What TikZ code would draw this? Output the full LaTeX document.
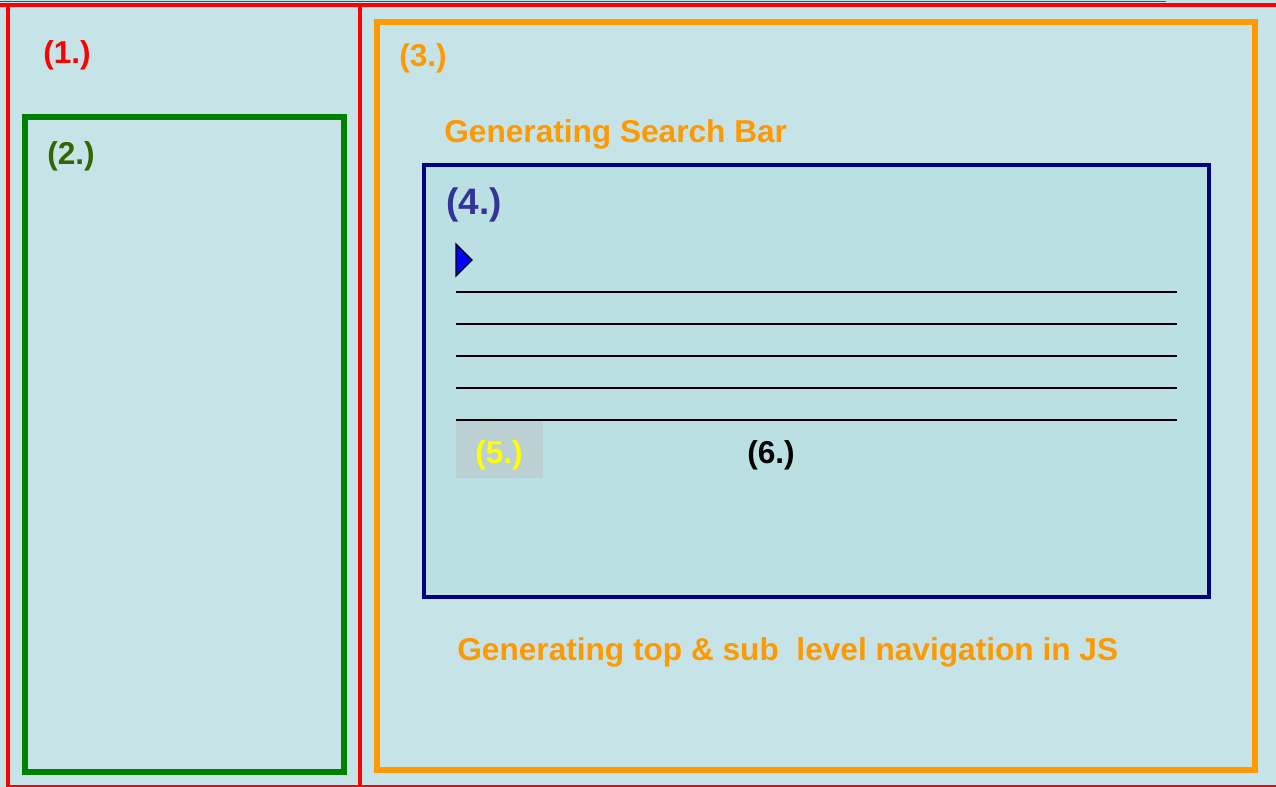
\documentclass[tikz,border=0pt]{standalone}
\usepackage{fontspec}
\setmainfont{Liberation Sans}
\usetikzlibrary{calc}
\definecolor{bgblue}{RGB}{198,227,231}
\definecolor{boxblue}{RGB}{187,224,227}
\definecolor{fivegray}{RGB}{186,208,211}
\definecolor{orng}{RGB}{255,153,0}
\definecolor{dgreen}{RGB}{0,128,0}
\definecolor{olivegreen}{RGB}{51,102,0}
\definecolor{navyblue}{RGB}{0,0,128}
\definecolor{fourblue}{RGB}{51,51,153}
\definecolor{textyellow}{RGB}{255,255,0}
\tikzset{
	lbl/.style={font=\bfseries\fontsize{18}{21}\selectfont, inner sep=0pt},
	biglbl/.style={font=\bfseries\fontsize{21}{24}\selectfont, inner sep=0pt},
	rowline/.style={line width=0.9pt, black}
}

\begin{document}
\begin{tikzpicture}[x=0.02cm, y=-0.02cm]
		%%%%% START %%%%%
		\useasboundingbox (0, 0) rectangle (1276, 787);
		\fill[bgblue] (0, 0) rectangle (1276, 787);
		
		% outer frame (1.)
		\draw[red, line width=0.5pt] (0, 1) -- (1166, 1);
		\draw[red, line width=2pt] (0, 5) -- (1276, 5);
		\draw[red, line width=0.7pt] (8, 786) -- (1276, 786);
		\draw[red, line width=2pt] (8, 5) -- (8, 787);
		\draw[red, line width=2pt] (360, 5) -- (360, 787);
		
		% left column (2.)
		\draw[dgreen, line width=3.4pt] (25, 117) rectangle (344, 772);
		
		% main area (3.)
		\draw[orng, line width=3.4pt] (377, 22) rectangle (1255, 770);
		
		% search box (4.)
		\draw[navyblue, fill=boxblue, line width=2.3pt] (424, 165) rectangle (1209, 597);
		\draw[fill=blue, line width=0.8pt] (456, 244) -- (472, 260) -- (456, 276) -- cycle;
		\foreach \y in {292, 324, 356, 388, 420}
			\draw[rowline] (456, \y) -- (1177, \y);
		\fill[fivegray] (456, 421) rectangle (543, 478);
		
		% labels
		\node[lbl, red] (one) at (67, 55) {(1.)};
		\node[lbl, olivegreen] (two) at (71, 156) {(2.)};
		\node[lbl, orng] (three) at (423, 58) {(3.)};
		\node[biglbl, fourblue] (four) at (474, 205) {(4.)};
		\node[lbl, textyellow] (five) at (499, 455) {(5.)};
		\node[lbl, black] (six) at (771, 455) {(6.)};
		\node[lbl, orng, anchor=west] (searchbar) at (444, 134) {Generating Search Bar};
		\node[lbl, orng, anchor=west] (navigation) at (457, 652) {Generating top \& sub\ \ level navigation in JS};
		%%%%% END %%%%%
	\end{tikzpicture}
\end{document}
